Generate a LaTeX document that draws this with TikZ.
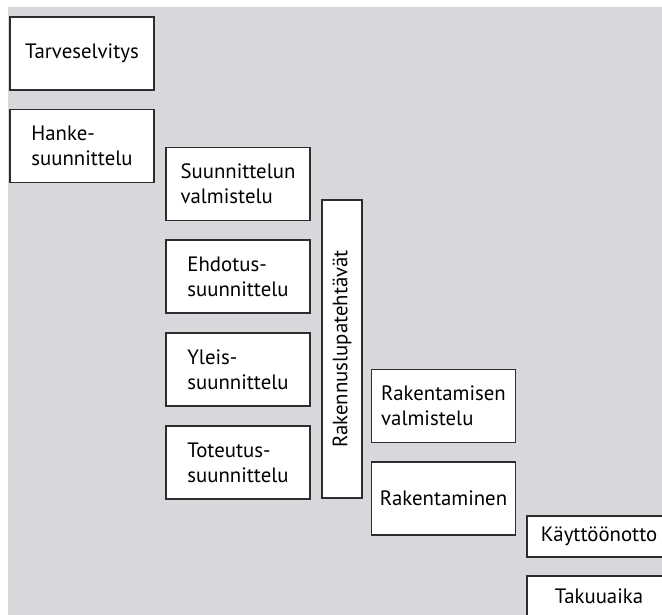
\documentclass[tikz,border=0pt]{standalone}
\usepackage{fontspec}
\setmainfont{PT Sans}
\usepackage{tikz}
\definecolor{taustaharmaa}{RGB}{216,215,220}
\definecolor{reuna}{RGB}{45,45,45}

\begin{document}
\begin{tikzpicture}[x=1pt,y=-1pt,
    vaihe/.style={draw=reuna,line width=1.4pt,fill=white,align=left,
      minimum width=144pt,minimum height=73pt,inner sep=0pt,
      font=\fontsize{20.8}{25}\selectfont},
    matala/.style={vaihe,minimum height=41pt}]
  \clip (0,0) rectangle (662,615);
  \fill[taustaharmaa] (8,7) rectangle (662,615);

  \draw (82,53.5) node[vaihe] (tarve) {Tarveselvitys};
  \draw (82,146) node[vaihe] (hanke) {Hanke-\\suunnittelu};
  \draw (238,184) node[vaihe] (s1) {Suunnittelun\\valmistelu};
  \draw (238,276.5) node[vaihe] (s2) {Ehdotus-\\suunnittelu};
  \draw (238,369.5) node[vaihe] (s3) {Yleis-\\suunnittelu};
  \draw (238,462.5) node[vaihe] (s4) {Toteutus-\\suunnittelu};
  \draw (342,349) node[vaihe,rotate=90,minimum width=298pt,minimum height=40pt] (lupa) {Rakennuslupatehtävät};
  \draw (443.5,406) node[vaihe] (r1) {Rakentamisen\\valmistelu};
  \draw (443.5,498.5) node[vaihe] (r2) {Rakentaminen};
  \draw (599,536.5) node[matala] (k1) {Käyttöönotto};
  \draw (599,596.5) node[matala] (k2) {Takuuaika};
\end{tikzpicture}
\end{document}
